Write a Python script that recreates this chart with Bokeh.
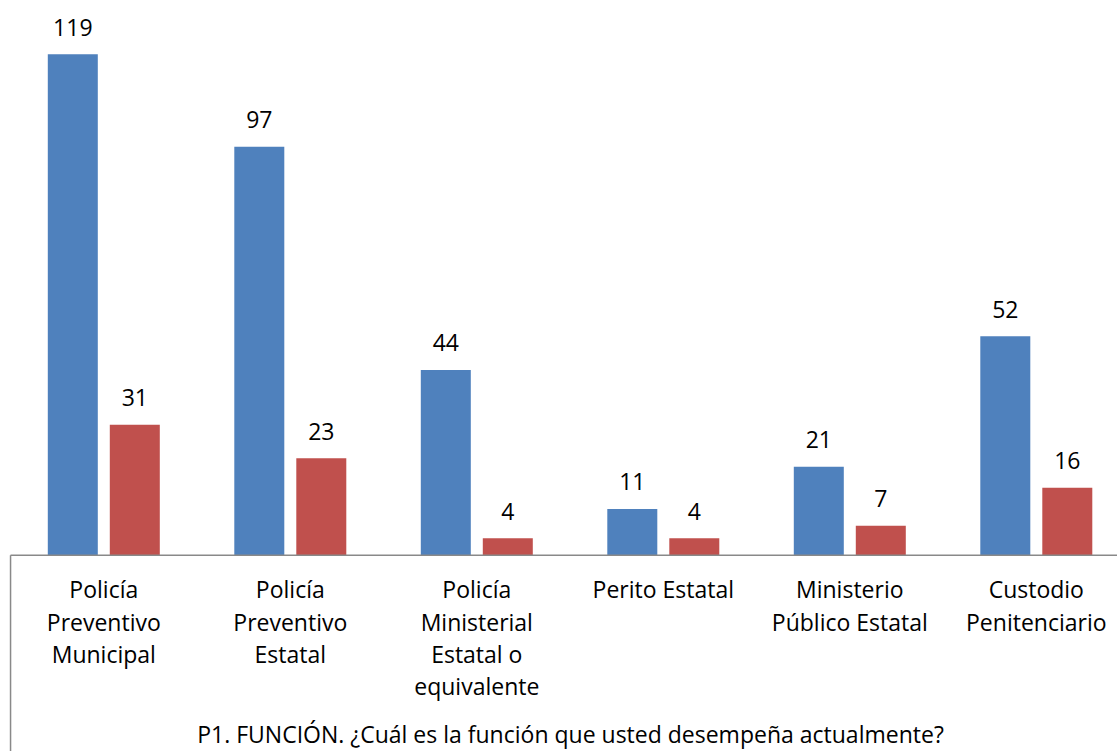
from bokeh.plotting import figure
from bokeh.models import ColumnDataSource, Range1d
from bokeh.core.properties import value
from bokeh.embed import file_html
from bokeh.resources import INLINE

categories = ["Policía\nPreventivo\nMunicipal", "Policía\nPreventivo\nEstatal",
              "Policía\nMinisterial\nEstatal o\nequivalente", "Perito Estatal",
              "Ministerio\nPúblico Estatal", "Custodio\nPenitenciario"]
serie_azul = [119, 97, 44, 11, 21, 52]
serie_roja = [31, 23, 4, 4, 7, 16]
titulo = "P1. FUNCIÓN. ¿Cuál es la función que usted desempeña actualmente?"

W, H = 1117, 751
px_cat = 186.5
px_unit = 4.21
axis_px = 554.7
x0 = -103.3 / px_cat
x1 = x0 + W / px_cat
y1 = axis_px / px_unit
y0 = -(H - axis_px) / px_unit

p = figure(width=W, height=H, output_backend="svg", toolbar_location=None,
           x_range=Range1d(x0, x1), y_range=Range1d(y0, y1),
           x_axis_type=None, y_axis_type=None, min_border=0)
p.outline_line_color = None
p.xgrid.visible = False
p.ygrid.visible = False

idx = list(range(len(categories)))
off = 31 / px_cat
bw = 50 / px_cat
src = ColumnDataSource(dict(
    xb=[i - off for i in idx], xr=[i + off for i in idx],
    vb=serie_azul, vr=serie_roja,
    tb=[str(v) for v in serie_azul], tr=[str(v) for v in serie_roja],
    xc=idx, cat=categories, y0=[0] * len(idx)))

p.vbar(x="xb", top="vb", width=bw, source=src, fill_color="#4F81BD", line_color=None)
p.vbar(x="xr", top="vr", width=bw, source=src, fill_color="#C0504D", line_color=None)

font = value("Open Sans")
fs = "23px"
p.text(x="xb", y="vb", text="tb", source=src, text_align="center", text_baseline="alphabetic",
       y_offset=-27, text_font=font, text_font_size=fs, text_color="#000000")
p.text(x="xr", y="vr", text="tr", source=src, text_align="center", text_baseline="alphabetic",
       y_offset=-27, text_font=font, text_font_size=fs, text_color="#000000")

# axis line and left border
p.segment(x0=[-0.5], y0=[0], x1=[x1], y1=[0], line_color="#898989", line_width=1.5)
p.segment(x0=[-0.5], y0=[0], x1=[-0.5], y1=[y0], line_color="#898989", line_width=1.5)

# category labels
p.text(x="xc", y="y0", text="cat", source=src, text_align="center", text_baseline="top",
       y_offset=18, text_font=font, text_font_size=fs, text_line_height=1.01, text_color="#000000")

# title
p.text(x=[x0 + 570 / px_cat], y=[y0], text=[titulo], text_align="center", text_baseline="bottom",
       y_offset=-2, text_font=font, text_font_size=fs, text_color="#000000")

open("out.html", "w").write(file_html(p, INLINE))
